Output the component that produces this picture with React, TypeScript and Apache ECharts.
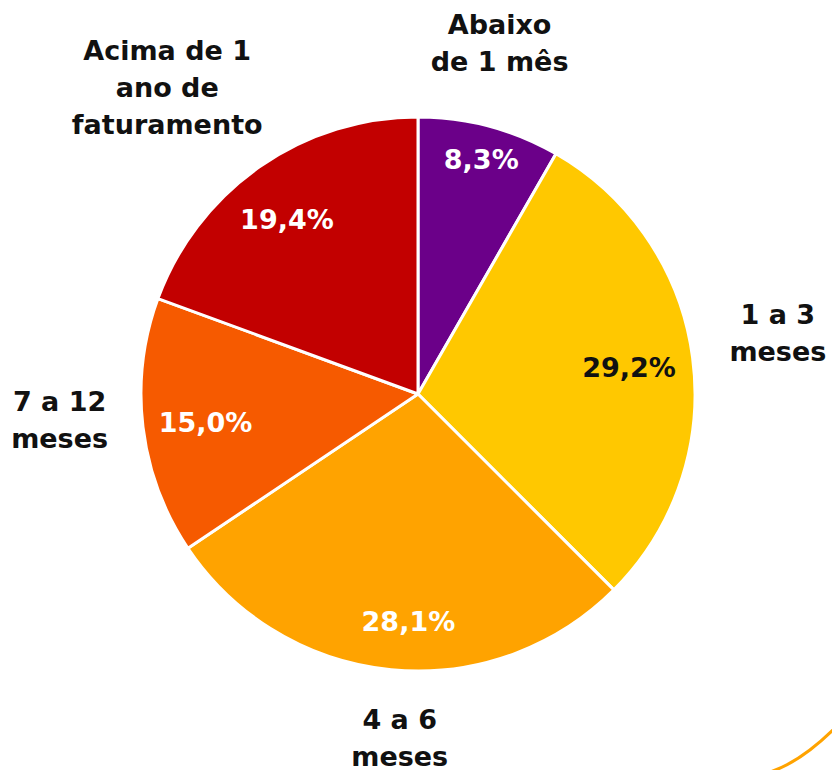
import React, { useEffect, useRef } from "react";
import * as echarts from "echarts";

const categories = ["Abaixo\nde 1 mês", "1 a 3\nmeses", "4 a 6\nmeses", "7 a 12\nmeses", "Acima de 1\nano de\nfaturamento"];
const values = [8.3, 29.2, 28.1, 15.0, 19.4];
const colors = ["#6B0089", "#FFC800", "#FFA300", "#F65A00", "#C20000"];
const valueTextColors = ["#ffffff", "#111111", "#ffffff", "#ffffff", "#ffffff"];
const valueOffsets = [[6, -20], [-9, 3], [12, 7], [8, 2], [-4, 8]];
const nameOffsets = [[-12, 0], [0, -13], [17, -17], [2, -17], [-43, -9]];

const FONT = "'DejaVu Sans', sans-serif";

export default function App() {
  const ref = useRef<HTMLDivElement>(null);
  useEffect(() => {
    if (!ref.current) return;
    const chart = echarts.init(ref.current, null, { renderer: "svg" });
    const center = [418, 394];
    const fmt = (v: number) => v.toFixed(1).replace(".", ",") + "%";
    chart.setOption({
      animation: false,
      backgroundColor: "#ffffff",
      graphic: [
        {
          type: "bezierCurve",
          shape: { x1: 770, y1: 772, cpx1: 801, cpy1: 762, x2: 836, y2: 727 },
          style: { stroke: "#FFA300", lineWidth: 3, fill: "none" },
          silent: true,
        },
      ],
      series: [
        {
          type: "pie",
          center,
          radius: [0, 277],
          startAngle: 90,
          clockwise: true,
          silent: true,
          label: { show: false },
          labelLine: { show: false },
          itemStyle: { borderColor: "#ffffff", borderWidth: 3 },
          data: categories.map((c, i) => ({ name: c, value: values[i], itemStyle: { color: colors[i] } })),
          z: 1,
        },
        {
          type: "pie",
          center,
          radius: [180, 258],
          startAngle: 90,
          clockwise: true,
          silent: true,
          itemStyle: { color: "transparent", borderWidth: 0 },
          labelLine: { show: false },
          data: categories.map((c, i) => ({
            name: c,
            value: values[i],
            label: {
              show: true,
              position: "inside",
              formatter: fmt(values[i]),
              color: valueTextColors[i],
              fontFamily: FONT,
              fontWeight: "bold",
              fontSize: 27,
              offset: valueOffsets[i],
            },
          })),
          z: 3,
        },
        {
          type: "pie",
          center,
          radius: [330, 390],
          startAngle: 90,
          clockwise: true,
          silent: true,
          itemStyle: { color: "transparent", borderWidth: 0 },
          labelLine: { show: false },
          data: categories.map((c, i) => ({
            name: c,
            value: values[i],
            label: {
              show: true,
              position: "inside",
              formatter: c,
              color: "#111111",
              fontFamily: FONT,
              fontWeight: "bold",
              fontSize: 27,
              lineHeight: 37,
              align: "center",
              offset: nameOffsets[i],
            },
          })),
          z: 3,
        },
      ],
    });
    return () => chart.dispose();
  }, []);
  return <div ref={ref} style={{ position: "fixed", left: 0, top: 0, width: 832, height: 770 }} />;
}
